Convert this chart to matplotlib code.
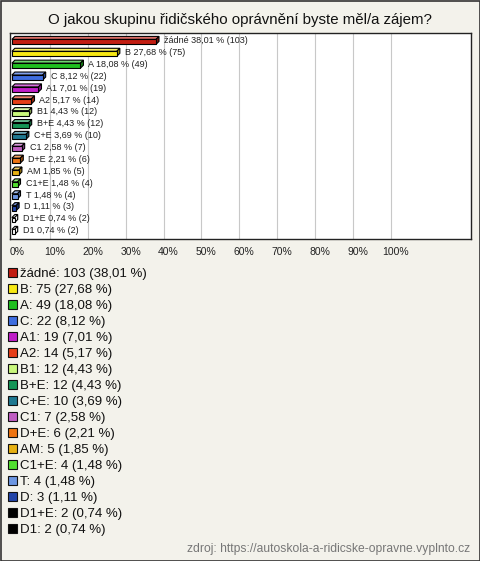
import numpy as np
import matplotlib
matplotlib.use("Agg")
import matplotlib.pyplot as plt
from matplotlib.patches import Rectangle, Polygon
from matplotlib.colors import to_rgb

plt.rcParams['font.family'] = ['Liberation Sans', 'DejaVu Sans']

title = "O jakou skupinu řidičského oprávnění byste měl/a zájem?"
source = "zdroj: https://autoskola-a-ridicske-opravne.vyplnto.cz"

categories = ["žádné", "B", "A", "C", "A1", "A2", "B1", "B+E", "C+E", "C1",
              "D+E", "AM", "C1+E", "T", "D", "D1+E", "D1"]
counts = [103, 75, 49, 22, 19, 14, 12, 12, 10, 7, 6, 5, 4, 4, 3, 2, 2]
percents = [38.01, 27.68, 18.08, 8.12, 7.01, 5.17, 4.43, 4.43, 3.69, 2.58,
            2.21, 1.85, 1.48, 1.48, 1.11, 0.74, 0.74]
colors = ["#c21d12", "#f7e814", "#1fbf1f", "#3f6ee0", "#c01ec8", "#e63e18",
          "#c9f77c", "#159556", "#1f7890", "#c05ec2", "#ee7412", "#e6b012",
          "#52e030", "#6c96e2", "#2244a8", "#000000", "#000000"]
ticks = [0, 10, 20, 30, 40, 50, 60, 70, 80, 90, 100]

W, H = 480, 561
bg = "#f3f2eb"

fig = plt.figure(figsize=(W / 100, H / 100), dpi=100, facecolor=bg)

# plot area in pixels
px_l, px_r, px_t, px_b = 10, 471, 33, 239
ax = fig.add_axes([px_l / W, 1 - px_b / H, (px_r - px_l) / W, (px_b - px_t) / H])
ax.set_facecolor("white")

xmin, xmax = -0.5, 121.1
n = len(categories)
ymin, ymax = n - 1 + 0.6, -0.75
ax.set_xlim(xmin, xmax)
ax.set_ylim(ymin, ymax)

# pixel -> data scale, for the 3D depth of the bars
sx = (xmax - xmin) / (px_r - px_l)
sy = (ymin - ymax) / (px_b - px_t)
dx, dy = 3 * sx, -3 * sy
h = 0.42


def shade(c, f):
    r, g, b = to_rgb(c)
    if f > 0:
        return (r + (1 - r) * f, g + (1 - g) * f, b + (1 - b) * f)
    return (r * (1 + f), g * (1 + f), b * (1 + f))


for i, (p, c) in enumerate(zip(percents, colors)):
    y0 = i + h / 2
    y1 = i - h / 2
    dark = c == "#000000"
    # top face
    ax.add_patch(Polygon([(0, y1), (p, y1), (p + dx, y1 + dy), (dx, y1 + dy)],
                         closed=True, facecolor="white" if dark else shade(c, 0.35),
                         edgecolor="black", lw=0.8, zorder=3))
    # side face
    ax.add_patch(Polygon([(p, y1), (p + dx, y1 + dy), (p + dx, y0 + dy), (p, y0)],
                         closed=True, facecolor="white" if dark else shade(c, -0.35),
                         edgecolor="black", lw=0.8, zorder=3))
    # front face
    ax.add_patch(Rectangle((0, y1), p, h, facecolor="white" if dark else c,
                           edgecolor="black", lw=0.8, zorder=4))
    lbl = f"{categories[i]} {p:.2f} % ({counts[i]})".replace(".", ",")
    ax.text(p + dx + 5 * sx, i - 0.1, lbl, fontsize=6.5, va="center", ha="left",
            color="#222222", zorder=5)

for t in ticks[1:]:
    ax.axvline(t, color="#c8c8c8", lw=0.8, zorder=1)

ax.set_xticks([])
ax.set_yticks([])
for s in ax.spines.values():
    s.set_color("#222222")
    s.set_linewidth(1)

for t in ticks:
    xp = px_l + (t - xmin) / sx
    fig.text((xp + 5) / W, 1 - 252 / H, f"{t}%", fontsize=7.5, ha="center",
             va="center", color="#222222")

fig.text(240 / W, 1 - 20 / H, title, fontsize=10.8, ha="center", va="center",
         color="#111111")

# legend
for i, (cat, cnt, p, c) in enumerate(zip(categories, counts, percents, colors)):
    yc = 273 + 16 * i
    fig.patches.append(Rectangle((8 / W, 1 - (yc + 4) / H), 9 / W, 9 / H,
                                 transform=fig.transFigure, facecolor=c,
                                 edgecolor="#111111", lw=0.8))
    txt = f"{cat}: {cnt} ({p:.2f} %)".replace(".", ",")
    fig.text(20 / W, 1 - (yc + 4.5) / H, txt, fontsize=9.5, ha="left",
             va="baseline", color="#111111")

fig.text(470 / W, 1 - 549 / H, source, fontsize=8.7, ha="right", va="center",
         color="#777777")

fig.patches.append(Rectangle((0.5 / W, 0.5 / H), (W - 1) / W, (H - 1) / H,
                             transform=fig.transFigure, fill=False,
                             edgecolor="#333333", lw=1.2))

fig.savefig("out.png", dpi=100, facecolor=bg)
